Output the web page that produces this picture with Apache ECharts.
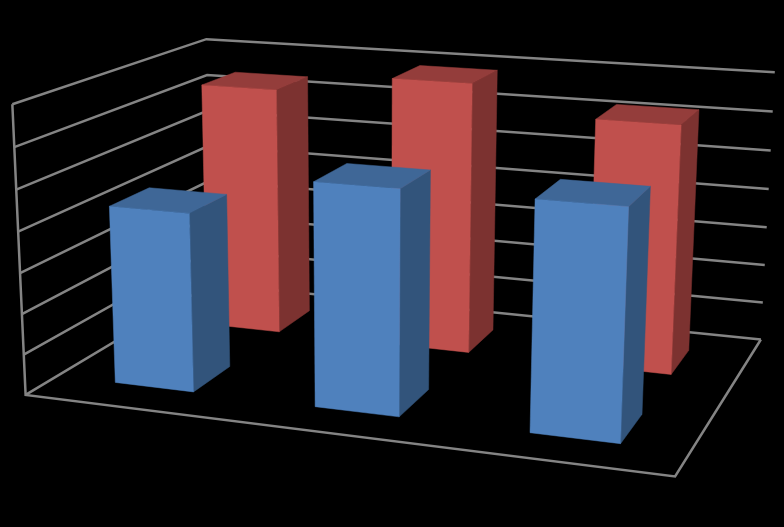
<!DOCTYPE html>
<html><head><meta charset="utf-8">
<style>html,body{margin:0;padding:0;background:#000}#c{width:784px;height:527px}</style>
<script src="https://cdn.jsdelivr.net/npm/echarts@6/dist/echarts.min.js"></script>
</head><body><div id="c"></div>
<script>
// ---- data ----
var categories = ['A', 'B', 'C'];
var seriesNames = ['Front', 'Back'];
var frontValues = [4.38, 5.38, 5.4];
var backValues = [6.42, 6.9, 6.22];
var valueTicks = [0, 1, 2, 3, 4, 5, 6, 7];
var valueMax = 7;
// ---- projection: unit box (across, depth, height) -> pixels ----
var anchors = [
  [0,0,0, 26,395.5],[1,0,0, 675,476],[1,1,0, 761,340],[0,1,0, 211,283],
  [0,0,1, 12,104],[0,1,1, 206.7,39.5],[1,1,1, 774.7,72]
];
function solve(A,b){var n=b.length,M=A.map(function(r,i){return r.concat(b[i]);});
  for(var i=0;i<n;i++){var p=i;for(var k=i+1;k<n;k++)if(Math.abs(M[k][i])>Math.abs(M[p][i]))p=k;
    var t=M[i];M[i]=M[p];M[p]=t;
    for(var k=0;k<n;k++){if(k===i)continue;var f=M[k][i]/M[i][i];for(var j=i;j<=n;j++)M[k][j]-=f*M[i][j];}}
  return M.map(function(r,i){return r[n]/r[i];});}
var rows=[],rhs=[];
anchors.forEach(function(a){var u=a[0],v=a[1],w=a[2],x=a[3],y=a[4];
  rows.push([u,v,w,1,0,0,0,0,-x*u,-x*v,-x*w]);rhs.push(x);
  rows.push([0,0,0,0,u,v,w,1,-y*u,-y*v,-y*w]);rhs.push(y);});
var AtA=[],Atb=[];
for(var i=0;i<11;i++){AtA.push([]);var s=0;for(var r=0;r<rows.length;r++)s+=rows[r][i]*rhs[r];Atb.push(s);
  for(var j=0;j<11;j++){var q=0;for(var r=0;r<rows.length;r++)q+=rows[r][i]*rows[r][j];AtA[i].push(q);}}
var P=solve(AtA,Atb);
function proj(u,v,w){var d=P[8]*u+P[9]*v+P[10]*w+1;
  return [(P[0]*u+P[1]*v+P[2]*w+P[3])/d,(P[4]*u+P[5]*v+P[6]*w+P[7])/d];}
// ---- marks ----
var barRows=[];
backValues.forEach(function(val,i){barRows.push([i,1,val]);});
frontValues.forEach(function(val,i){barRows.push([i,0,val]);});
var palette=[{front:'#4F81BD',side:'#32547B',top:'#3F6797'},{front:'#C0504D',side:'#7C3230',top:'#943D3B'}];
var line={stroke:'#848484',lineWidth:2.5,fill:null};
var gridData=valueTicks.map(function(t){return [t];});
function poly(api,pts,fill){return {type:'polygon',shape:{points:pts.map(function(p){return api.coord(p);})},
  style:{fill:fill,stroke:fill,lineWidth:0.5}};}
var bw=0.4/categories.length, bd=0.4/seriesNames.length;
var chart=echarts.init(document.getElementById('c'),null,{renderer:'canvas'});
chart.setOption({
  backgroundColor:'#000',animation:false,
  grid:{left:0,right:0,top:0,bottom:0},
  xAxis:{type:'value',min:0,max:784,show:false},
  yAxis:{type:'value',min:0,max:527,inverse:true,show:false},
  series:[
   {type:'custom',silent:true,clip:false,data:gridData,encode:{x:0,y:0},
    renderItem:function(p,api){var w=api.value(0)/valueMax;
      var a=api.coord(proj(0,0,w)),b=api.coord(proj(0,1,w)),c=api.coord(proj(1,1,w));
      return {type:'polyline',shape:{points:[a,b,c]},style:line};}},
   {type:'custom',silent:true,clip:false,data:[[0]],encode:{x:0,y:0},
    renderItem:function(p,api){
      var q=function(u,v,w){return api.coord(proj(u,v,w));};
      return {type:'polyline',shape:{points:[q(0,0,1),q(0,0,0),q(1,0,0),q(1,1,0)]},style:line};}},
   {type:'custom',silent:true,clip:false,data:barRows,encode:{x:0,y:2},
    renderItem:function(p,api){
      var i=api.value(0),s=api.value(1),val=api.value(2)/valueMax;
      var uc=(i+0.5)/categories.length,vc=(s+0.5)/seriesNames.length;
      var u0=uc-bw/2,u1=uc+bw/2,v0=vc-bd/2,v1=vc+bd/2,c=palette[s];
      return {type:'group',children:[
        poly(api,[proj(u1,v0,0),proj(u1,v1,0),proj(u1,v1,val),proj(u1,v0,val)],c.side),
        poly(api,[proj(u0,v0,val),proj(u1,v0,val),proj(u1,v1,val),proj(u0,v1,val)],c.top),
        poly(api,[proj(u0,v0,0),proj(u1,v0,0),proj(u1,v0,val),proj(u0,v0,val)],c.front)
      ]};}}
  ]
});
</script></body></html>
